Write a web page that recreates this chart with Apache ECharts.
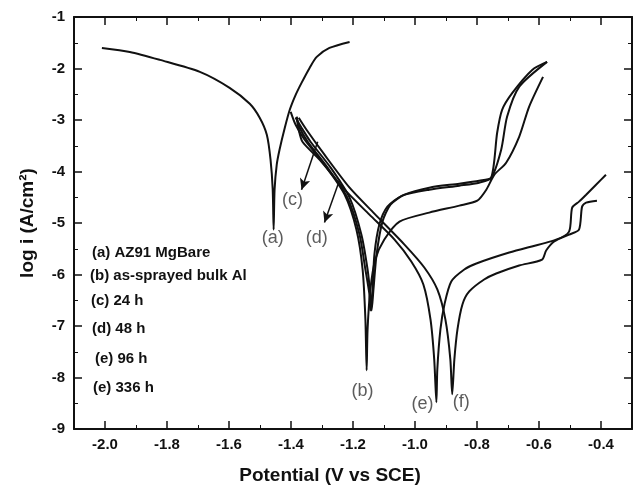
<!DOCTYPE html>
<html>
<head>
<meta charset="utf-8">
<script src="https://cdn.jsdelivr.net/npm/echarts@6/dist/echarts.min.js"></script>
<style>
  html, body { margin: 0; padding: 0; background: #fff; }
  #chart { width: 634px; height: 490px; }
</style>
</head>
<body>
<div id="chart"></div>
<script>
// Polarisation curves, [potential (V vs SCE), log i]
const curveA = [[-2.010,-1.601],[-1.920,-1.678],[-1.823,-1.833],[-1.694,-2.066],[-1.598,-2.376],[-1.533,-2.686],[-1.501,-2.957],[-1.478,-3.287],[-1.466,-3.771],[-1.459,-4.353],[-1.456,-5.128],[-1.453,-4.353],[-1.446,-3.868],[-1.437,-3.578],[-1.420,-3.151],[-1.404,-2.802],[-1.385,-2.512],[-1.366,-2.279],[-1.340,-1.988],[-1.317,-1.775],[-1.276,-1.601],[-1.211,-1.484]];
const curveB = [[-1.401,-2.841],[-1.385,-3.093],[-1.356,-3.384],[-1.292,-3.868],[-1.227,-4.450],[-1.189,-5.128],[-1.169,-5.903],[-1.160,-6.872],[-1.156,-7.860],[-1.153,-7.066],[-1.144,-6.291],[-1.128,-5.709],[-1.099,-5.322],[-1.050,-4.973],[-0.954,-4.798],[-0.857,-4.663],[-0.799,-4.566],[-0.770,-4.353],[-0.744,-4.062],[-0.706,-3.829],[-0.664,-3.326],[-0.632,-2.744],[-0.587,-2.163]];
const curveC = [[-1.382,-2.938],[-1.372,-3.151],[-1.346,-3.422],[-1.282,-3.926],[-1.218,-4.508],[-1.179,-5.225],[-1.160,-5.903],[-1.147,-6.388],[-1.144,-6.698],[-1.137,-6.291],[-1.131,-5.612],[-1.115,-5.031],[-1.089,-4.682],[-1.041,-4.469],[-0.954,-4.353],[-0.857,-4.275],[-0.793,-4.217],[-0.754,-4.120],[-0.735,-3.248],[-0.719,-2.802],[-0.686,-2.473],[-0.622,-2.027],[-0.574,-1.872]];
const curveD = [[-1.385,-2.957],[-1.366,-3.151],[-1.337,-3.422],[-1.272,-3.926],[-1.211,-4.508],[-1.173,-5.225],[-1.153,-5.903],[-1.144,-6.388],[-1.140,-6.698],[-1.134,-6.291],[-1.124,-5.612],[-1.105,-4.973],[-1.079,-4.643],[-1.034,-4.450],[-0.954,-4.314],[-0.857,-4.236],[-0.793,-4.178],[-0.754,-4.120],[-0.722,-3.578],[-0.703,-2.938],[-0.664,-2.357],[-0.574,-1.872]];
const curveE = [[-1.382,-2.938],[-1.375,-3.190],[-1.363,-3.422],[-1.308,-3.771],[-1.227,-4.353],[-1.147,-4.837],[-1.066,-5.322],[-1.012,-5.748],[-0.973,-6.194],[-0.950,-6.872],[-0.938,-7.647],[-0.931,-8.481],[-0.928,-7.841],[-0.918,-7.066],[-0.905,-6.581],[-0.883,-6.136],[-0.841,-5.903],[-0.802,-5.787],[-0.696,-5.574],[-0.545,-5.322],[-0.503,-5.167],[-0.493,-4.702],[-0.471,-4.585],[-0.448,-4.450],[-0.416,-4.256],[-0.384,-4.062]];
const curveF = [[-1.375,-2.957],[-1.350,-3.190],[-1.292,-3.674],[-1.211,-4.314],[-1.131,-4.818],[-1.034,-5.419],[-0.970,-5.864],[-0.928,-6.291],[-0.902,-6.872],[-0.886,-7.647],[-0.880,-8.326],[-0.873,-7.647],[-0.863,-7.066],[-0.847,-6.581],[-0.825,-6.329],[-0.777,-6.097],[-0.738,-5.981],[-0.664,-5.826],[-0.590,-5.709],[-0.577,-5.535],[-0.551,-5.360],[-0.503,-5.225],[-0.471,-5.128],[-0.461,-4.682],[-0.448,-4.605],[-0.413,-4.566]];

// Curve tags drawn next to the corrosion potentials
const tagNames = ['(a)', '(b)', '(c)', '(d)', '(e)', '(f)'];
const tagX = [-1.459, -1.169, -1.395, -1.317, -0.976, -0.851];
const tagY = [-5.283, -8.267, -4.547, -5.283, -8.519, -8.481];

// Arrows from the (c) and (d) tags to their curves
const arrowFrom = [[-1.314, -3.422], [-1.243, -4.159]];
const arrowTo = [[-1.366, -4.353], [-1.292, -4.992]];

// Sample list in the lower left corner
const sampleNames = ['(a) AZ91 MgBare', '(b) as-sprayed bulk Al', '(c) 24 h', '(d) 48 h', '(e) 96 h', '(e) 336 h'];

const xTicks = { min: -2.1, max: -0.3 };
const yTicks = { min: -9, max: -1, interval: 1 };

const FONT = 'Liberation Sans, Arial, sans-serif';
const INK = '#111';

function curveSeries(name, data) {
    return {
        name: name,
        type: 'line',
        data: data,
        smooth: 0.25,
        showSymbol: false,
        symbol: 'none',
        lineStyle: { color: INK, width: 2 },
        z: 3
    };
}

function boxAxis(overrides) {
    return {
        axisLine: { show: true, onZero: false, lineStyle: { color: INK, width: 2 } },
        axisTick: { show: true, inside: true, length: 8, lineStyle: { color: INK, width: 1.5 } },
        minorTick: { show: true, splitNumber: 2, length: 4, lineStyle: { color: INK, width: 1 } },
        splitLine: { show: false },
        ...overrides
    };
}

const chart = echarts.init(document.getElementById('chart'), null, { renderer: 'canvas' });

const arrowLines = arrowFrom.map((p, i) => [{ coord: p }, { coord: arrowTo[i] }]);

const tagData = tagNames.map((n, i) => ({ value: [tagX[i], tagY[i]], name: n }));

const option = {
    animation: false,
    backgroundColor: '#fff',
    grid: { left: 74, right: 2, top: 17, bottom: 58 },
    xAxis: [
        boxAxis({
            type: 'value', position: 'bottom',
            min: xTicks.min, max: xTicks.max, splitNumber: 9,
            axisLabel: {
                show: true, showMinLabel: false, showMaxLabel: false, margin: 8,
                color: INK, fontFamily: FONT, fontWeight: 'bold', fontSize: 15,
                formatter: v => v.toFixed(1)
            },
            name: 'Potential (V vs SCE)', nameLocation: 'middle', nameGap: 37,
            nameTextStyle: { color: INK, fontFamily: FONT, fontWeight: 'bold', fontSize: 19, padding: [0, 46, 0, 0] }
        }),
        boxAxis({
            type: 'value', position: 'top',
            min: xTicks.min, max: xTicks.max, splitNumber: 9,
            axisLabel: { show: false }
        })
    ],
    yAxis: [
        boxAxis({
            type: 'value', position: 'left',
            min: yTicks.min, max: yTicks.max, interval: yTicks.interval,
            axisLabel: {
                margin: 9, color: INK, fontFamily: FONT, fontWeight: 'bold', fontSize: 15
            },
            name: 'log i (A/cm²)', nameLocation: 'middle', nameGap: 37,
            nameTextStyle: { color: INK, fontFamily: FONT, fontWeight: 'bold', fontSize: 19 }
        }),
        boxAxis({
            type: 'value', position: 'right',
            min: yTicks.min, max: yTicks.max, interval: yTicks.interval,
            axisLabel: { show: false }
        })
    ],
    series: [
        curveSeries('a', curveA),
        curveSeries('b', curveB),
        curveSeries('c', curveC),
        curveSeries('d', curveD),
        curveSeries('e', curveE),
        curveSeries('f', curveF),
        {
            name: 'tags',
            type: 'scatter',
            data: tagData,
            symbolSize: 0,
            silent: true,
            label: {
                show: true, position: 'inside', formatter: p => p.name,
                color: '#333', fontFamily: FONT, fontSize: 18
            },
            markLine: {
                silent: true,
                symbol: ['none', 'arrow'],
                symbolSize: [8, 11],
                label: { show: false },
                lineStyle: { color: INK, width: 1.5, type: 'solid' },
                data: arrowLines
            },
            z: 4
        }
    ],
    graphic: sampleNames.map((t, i) => ({
        type: 'text',
        left: [92, 90, 91, 92, 95, 93][i],
        top: [245, 268, 293, 321, 351, 380][i],
        style: { text: t, fill: INK, font: 'bold 15px ' + FONT }
    }))
};

chart.setOption(option);
</script>
</body>
</html>
